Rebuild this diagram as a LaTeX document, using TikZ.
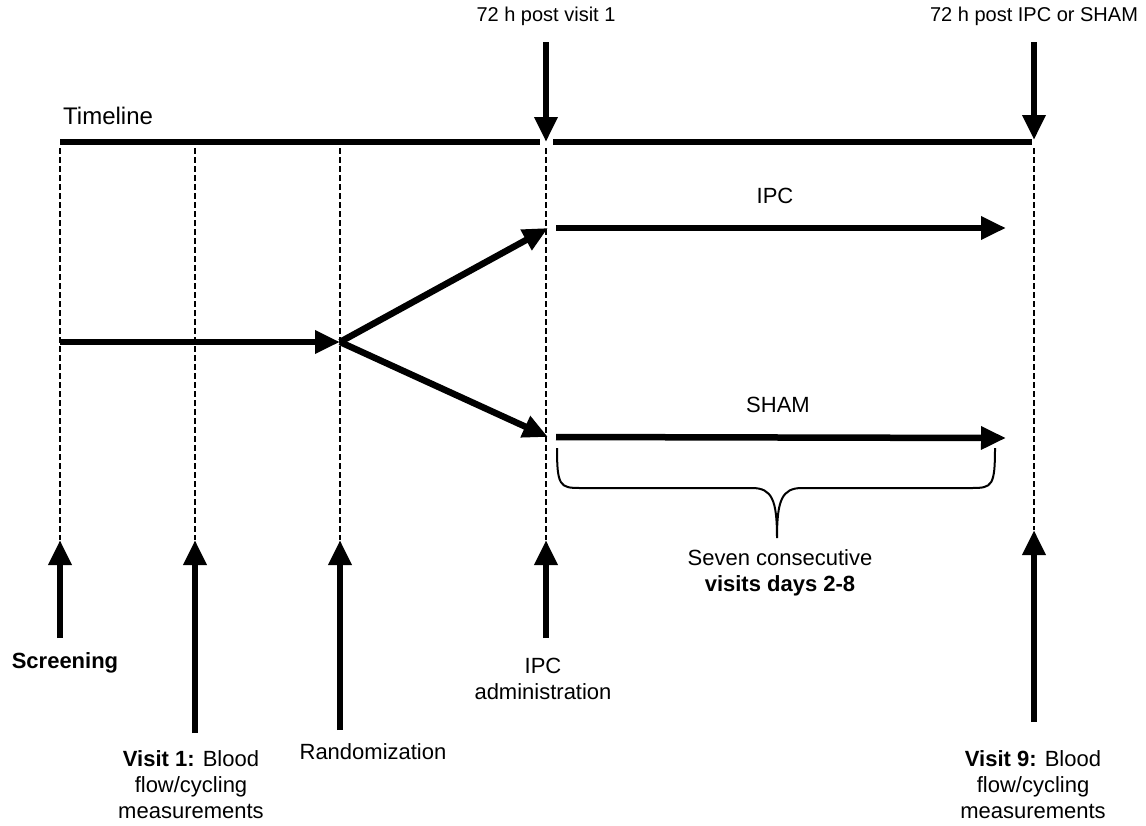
\documentclass[tikz,border=0pt]{standalone}
\usepackage{fontspec}
\setmainfont{Liberation Sans}
\usetikzlibrary{arrows.meta}
\begin{document}
\begin{tikzpicture}[x=1pt,y=-1pt,
  fatarrow/.style={line width=6.5pt,-{Triangle[width=22pt,length=25pt]}},
  bar/.style={line width=6.5pt},
  guide/.style={line width=1.5pt,dash pattern=on 6pt off 3pt},
  lbl/.style={font=\fontsize{22}{26}\selectfont,align=center,inner sep=0pt},
  toplbl/.style={font=\fontsize{20}{24}\selectfont,inner sep=0pt}]
\useasboundingbox (0,0) rectangle (1146,825);

% key coordinates
\coordinate (tlA) at (60,142);
\coordinate (tlB) at (540,142);
\coordinate (tlC) at (553,142);
\coordinate (tlD) at (1032,142);

\coordinate (scrtop) at (60,148);   \coordinate (scrbot) at (60,540);
\coordinate (v1top) at (195,148);   \coordinate (v1bot) at (195,540);
\coordinate (rndtop) at (340,148);  \coordinate (rndbot) at (340,540);
\coordinate (ipctop) at (546,148);  \coordinate (ipcbot) at (546,540);
\coordinate (v9top) at (1034,148);  \coordinate (v9bot) at (1034,530);

% timeline
\node[font=\fontsize{24}{28}\selectfont,anchor=west,inner sep=0pt] (tl) at (63,116) {Timeline};
\draw[bar] (tlA) -- (tlB);
\draw[bar] (tlC) -- (tlD);

% top labels and arrows
\node[toplbl] (t1) at (546,16) {72 h post visit 1};
\node[toplbl] (t2) at (1034,16) {72 h post IPC or SHAM};
\coordinate (t1s) at (546,42);
\coordinate (t1e) at (546,142);
\coordinate (t2s) at (1034,42);
\coordinate (t2e) at (1034,140);
\draw[fatarrow] (t1s) -- (t1e);
\draw[fatarrow] (t2s) -- (t2e);

% dashed guides
\foreach \n in {scr,v1,rnd,ipc,v9}{
  \draw[guide] (\n top) -- (\n bot);
}

% flow arrows
\coordinate (m0) at (60,342);
\coordinate (m1) at (340,342);
\coordinate (up) at (548,228);
\coordinate (dn) at (548,437);
\draw[fatarrow] (m0) -- (m1);
\draw[fatarrow] (m1) -- (up);
\draw[fatarrow] (m1) -- (dn);

\coordinate (i0) at (556,228);
\coordinate (i1) at (1006,228);
\coordinate (s0) at (556,437);
\coordinate (s1) at (1006,438);
\draw[fatarrow] (i0) -- (i1);
\draw[fatarrow] (s0) -- (s1);
\node[lbl] (ipclbl) at (775,196) {IPC};
\node[lbl] (shamlbl) at (778,405) {SHAM};

% brace
\draw[line width=2pt] (557,448) .. controls (557,486) and (560,488) .. (580,488)
  -- (752,488) .. controls (772,488) and (777,500) .. (777,538)
  .. controls (777,500) and (782,488) .. (802,488)
  -- (972,488) .. controls (992,488) and (995,486) .. (995,448);
\node[lbl] (seven) at (780,573) {Seven consecutive\\\textbf{visits days 2-8}};

% bottom arrows
\coordinate (scrS) at (60,638);
\coordinate (v1S) at (195,733);
\coordinate (rndS) at (340,730);
\coordinate (ipcS) at (546,638);
\coordinate (v9S) at (1034,722);
\draw[fatarrow] (scrS) -- (scrbot);
\draw[fatarrow] (v1S) -- (v1bot);
\draw[fatarrow] (rndS) -- (rndbot);
\draw[fatarrow] (ipcS) -- (ipcbot);
\draw[fatarrow] (v9S) -- (v9bot);

% bottom labels
\node[lbl] (scrlbl) at (65,663) {\textbf{Screening}};
\node[lbl] (v1lbl) at (191,785) {\textbf{Visit 1:} Blood\\flow/cycling\\measurements};
\node[lbl] (rndlbl) at (373,752) {Randomization};
\node[lbl] (ipclbl2) at (543,679) {IPC\\administration};
\node[lbl] (v9lbl) at (1033,785) {\textbf{Visit 9:} Blood\\flow/cycling\\measurements};
\end{tikzpicture}
\end{document}
